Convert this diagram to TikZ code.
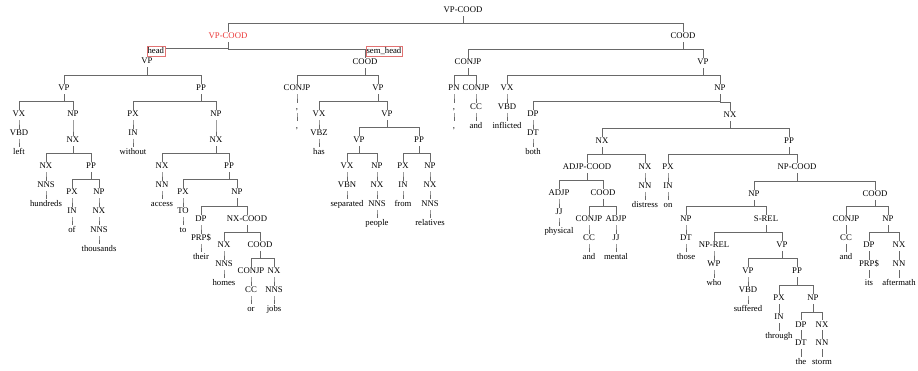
\documentclass[tikz,border=0pt]{standalone}
\usepackage{fontspec}
\setmainfont{Liberation Serif}
\usepackage{xcolor}
\usepackage{tikz}
\usetikzlibrary{positioning}
\definecolor{treegray}{RGB}{105,105,105}
\definecolor{headred}{RGB}{235,55,55}
\definecolor{boxred}{RGB}{225,115,115}

\tikzset{
    tag/.style={inner sep=1pt, text height=6pt, text depth=2pt, font=\fontsize{8.7}{10}\selectfont},
    branch/.style={draw=treegray, line width=0.6pt,
        to path={(\tikztostart.south) |- ([yshift=8pt]\tikztotarget.north) -- (\tikztotarget.north)}},
    rolebox/.style={tag, draw=boxred, fill=white, inner sep=0.8pt, line width=0.5pt}
}

\begin{document}
\begin{tikzpicture}[x=1pt, y=-1pt, node distance=8.4pt]
    \useasboundingbox (0,0) rectangle (918,371);

    \node[tag] (root) at (463,11) {VP-COOD};
    \node[tag, text=headred] (vpcood) at (228,37) {VP-COOD};
    \node[tag] (cood) at (683,37) {COOD};

    % head conjunct
    \node[tag] (vp) at (147,62) {VP};
    \node[tag] (vp-left) at (64,89) {VP};
    \node[tag] (pp-without) at (201,89) {PP};
    \node[tag] (vx-left) at (19,115) {VX};
    \node[tag, below=of vx-left] (t-left) {VBD};
    \node[tag, below=of t-left] (w-left) {left};
    \node[tag] (np-hundreds) at (73,115) {NP};
    \node[tag] (nx-hundreds) at (73,141) {NX};
    \node[tag] (nx-h) at (46,167) {NX};
    \node[tag, below=of nx-h] (t-hundreds) {NNS};
    \node[tag, below=of t-hundreds] (w-hundreds) {hundreds};
    \node[tag] (pp-of) at (91,167) {PP};
    \node[tag] (px-of) at (72,193) {PX};
    \node[tag, below=of px-of] (t-of) {IN};
    \node[tag, below=of t-of] (w-of) {of};
    \node[tag] (np-thousands) at (99,193) {NP};
    \node[tag, below=of np-thousands] (nx-thousands) {NX};
    \node[tag, below=of nx-thousands] (t-thousands) {NNS};
    \node[tag, below=of t-thousands] (w-thousands) {thousands};
    \node[tag] (px-without) at (133,115) {PX};
    \node[tag, below=of px-without] (t-without) {IN};
    \node[tag, below=of t-without] (w-without) {without};
    \node[tag] (np-access) at (216,115) {NP};
    \node[tag] (nx-access) at (216,141) {NX};
    \node[tag] (nx-a) at (162,167) {NX};
    \node[tag, below=of nx-a] (t-access) {NN};
    \node[tag, below=of t-access] (w-access) {access};
    \node[tag] (pp-to) at (229,167) {PP};
    \node[tag] (px-to) at (183,193) {PX};
    \node[tag, below=of px-to] (t-to) {TO};
    \node[tag, below=of t-to] (w-to) {to};
    \node[tag] (np-their) at (237,193) {NP};
    \node[tag] (dp-their) at (201,220) {DP};
    \node[tag, below=of dp-their] (t-their) {PRP\$};
    \node[tag, below=of t-their] (w-their) {their};
    \node[tag] (nxcood) at (247,220) {NX-COOD};
    \node[tag] (nx-homes) at (224,246) {NX};
    \node[tag, below=of nx-homes] (t-homes) {NNS};
    \node[tag, below=of t-homes] (w-homes) {homes};
    \node[tag] (cood-jobs) at (260,246) {COOD};
    \node[tag] (conjp-or) at (251,272) {CONJP};
    \node[tag, below=of conjp-or] (t-or) {CC};
    \node[tag, below=of t-or] (w-or) {or};
    \node[tag] (nx-jobs) at (274,272) {NX};
    \node[tag, below=of nx-jobs] (t-jobs) {NNS};
    \node[tag, below=of t-jobs] (w-jobs) {jobs};

    % sem_head conjunct
    \node[tag] (cood-has) at (365,63) {COOD};
    \node[tag] (conjp-comma) at (297,89) {CONJP};
    \node[tag, below=of conjp-comma] (t-comma) {,};
    \node[tag, below=of t-comma] (w-comma) {,};
    \node[tag] (vp-has) at (378,89) {VP};
    \node[tag] (vx-has) at (319,115) {VX};
    \node[tag, below=of vx-has] (t-has) {VBZ};
    \node[tag, below=of t-has] (w-has) {has};
    \node[tag] (vp-sep) at (387,115) {VP};
    \node[tag] (vp-people) at (359,141) {VP};
    \node[tag] (vx-sep) at (347,167) {VX};
    \node[tag, below=of vx-sep] (t-sep) {VBN};
    \node[tag, below=of t-sep] (w-sep) {separated};
    \node[tag] (np-people) at (377,167) {NP};
    \node[tag, below=of np-people] (nx-people) {NX};
    \node[tag, below=of nx-people] (t-people) {NNS};
    \node[tag, below=of t-people] (w-people) {people};
    \node[tag] (pp-from) at (419,141) {PP};
    \node[tag] (px-from) at (403,167) {PX};
    \node[tag, below=of px-from] (t-from) {IN};
    \node[tag, below=of t-from] (w-from) {from};
    \node[tag] (np-rel) at (430,167) {NP};
    \node[tag, below=of np-rel] (nx-rel) {NX};
    \node[tag, below=of nx-rel] (t-rel) {NNS};
    \node[tag, below=of t-rel] (w-rel) {relatives};

    % right conjunct
    \node[tag] (conjp-and) at (468,63) {CONJP};
    \node[tag] (pn) at (454,89) {PN};
    \node[tag, below=of pn] (t-pn) {,};
    \node[tag, below=of t-pn] (w-pn) {,};
    \node[tag] (conjp-cc) at (476,89) {CONJP};
    \node[tag, below=of conjp-cc] (t-and) {CC};
    \node[tag, below=of t-and] (w-and) {and};
    \node[tag] (vp-inflicted) at (703,63) {VP};
    \node[tag] (vx-inflicted) at (507,89) {VX};
    \node[tag, below=of vx-inflicted] (t-inflicted) {VBD};
    \node[tag, below=of t-inflicted] (w-inflicted) {inflicted};
    \node[tag] (np-both) at (720,89) {NP};
    \node[tag] (dp-both) at (533,115) {DP};
    \node[tag, below=of dp-both] (t-both) {DT};
    \node[tag, below=of t-both] (w-both) {both};
    \node[tag] (nx-both) at (730,116) {NX};
    \node[tag] (nx-distress) at (602,142) {NX};
    \node[tag] (adjpcood) at (587,168) {ADJP-COOD};
    \node[tag] (adjp-phys) at (559,194) {ADJP};
    \node[tag, below=of adjp-phys] (t-phys) {JJ};
    \node[tag, below=of t-phys] (w-phys) {physical};
    \node[tag] (cood-mental) at (603,194) {COOD};
    \node[tag] (conjp-mental) at (589,220) {CONJP};
    \node[tag, below=of conjp-mental] (t-and2) {CC};
    \node[tag, below=of t-and2] (w-and2) {and};
    \node[tag] (adjp-mental) at (616,220) {ADJP};
    \node[tag, below=of adjp-mental] (t-mental) {JJ};
    \node[tag, below=of t-mental] (w-mental) {mental};
    \node[tag] (nx-d) at (645,168) {NX};
    \node[tag, below=of nx-d] (t-distress) {NN};
    \node[tag, below=of t-distress] (w-distress) {distress};
    \node[tag] (pp-on) at (789,142) {PP};
    \node[tag] (px-on) at (668,168) {PX};
    \node[tag, below=of px-on] (t-on) {IN};
    \node[tag, below=of t-on] (w-on) {on};
    \node[tag] (npcood) at (797,168) {NP-COOD};
    \node[tag] (np-those) at (754,195) {NP};
    \node[tag] (np-dt) at (686,220) {NP};
    \node[tag, below=of np-dt] (t-those) {DT};
    \node[tag, below=of t-those] (w-those) {those};
    \node[tag] (srel) at (766,220) {S-REL};
    \node[tag] (nprel) at (714,246) {NP-REL};
    \node[tag, below=of nprel] (t-who) {WP};
    \node[tag, below=of t-who] (w-who) {who};
    \node[tag] (vp-suffered) at (782,246) {VP};
    \node[tag] (vp-vbd) at (748,272) {VP};
    \node[tag, below=of vp-vbd] (t-suffered) {VBD};
    \node[tag, below=of t-suffered] (w-suffered) {suffered};
    \node[tag] (pp-through) at (797,272) {PP};
    \node[tag] (px-through) at (779,299) {PX};
    \node[tag, below=of px-through] (t-through) {IN};
    \node[tag, below=of t-through] (w-through) {through};
    \node[tag] (np-storm) at (813,299) {NP};
    \node[tag] (dp-the) at (801,325) {DP};
    \node[tag, below=of dp-the] (t-the) {DT};
    \node[tag, below=of t-the] (w-the) {the};
    \node[tag] (nx-storm) at (822,325) {NX};
    \node[tag, below=of nx-storm] (t-storm) {NN};
    \node[tag, below=of t-storm] (w-storm) {storm};
    \node[tag] (cood-after) at (875,195) {COOD};
    \node[tag] (conjp-after) at (846,220) {CONJP};
    \node[tag, below=of conjp-after] (t-and3) {CC};
    \node[tag, below=of t-and3] (w-and3) {and};
    \node[tag] (np-after) at (888,220) {NP};
    \node[tag] (dp-its) at (869,246) {DP};
    \node[tag, below=of dp-its] (t-its) {PRP\$};
    \node[tag, below=of t-its] (w-its) {its};
    \node[tag] (nx-after) at (899,246) {NX};
    \node[tag, below=of nx-after] (t-after) {NN};
    \node[tag, below=of t-after] (w-after) {aftermath};

    % branches
    \draw[branch] (root) to (vpcood);
    \draw[branch] (root) to (cood);
    \draw[branch] (vpcood) to (vp);
    \draw[branch] (vpcood) to (cood-has);

    \draw[branch] (vp) to (vp-left);
    \draw[branch] (vp) to (pp-without);
    \draw[branch] (vp-left) to (vx-left);
    \draw[branch] (vx-left) to (t-left);
    \draw[branch] (t-left) to (w-left);
    \draw[branch] (vp-left) to (np-hundreds);
    \draw[branch] (np-hundreds) to (nx-hundreds);
    \draw[branch] (nx-hundreds) to (nx-h);
    \draw[branch] (nx-h) to (t-hundreds);
    \draw[branch] (t-hundreds) to (w-hundreds);
    \draw[branch] (nx-hundreds) to (pp-of);
    \draw[branch] (pp-of) to (px-of);
    \draw[branch] (px-of) to (t-of);
    \draw[branch] (t-of) to (w-of);
    \draw[branch] (pp-of) to (np-thousands);
    \draw[branch] (np-thousands) to (nx-thousands);
    \draw[branch] (nx-thousands) to (t-thousands);
    \draw[branch] (t-thousands) to (w-thousands);
    \draw[branch] (pp-without) to (px-without);
    \draw[branch] (px-without) to (t-without);
    \draw[branch] (t-without) to (w-without);
    \draw[branch] (pp-without) to (np-access);
    \draw[branch] (np-access) to (nx-access);
    \draw[branch] (nx-access) to (nx-a);
    \draw[branch] (nx-a) to (t-access);
    \draw[branch] (t-access) to (w-access);
    \draw[branch] (nx-access) to (pp-to);
    \draw[branch] (pp-to) to (px-to);
    \draw[branch] (px-to) to (t-to);
    \draw[branch] (t-to) to (w-to);
    \draw[branch] (pp-to) to (np-their);
    \draw[branch] (np-their) to (dp-their);
    \draw[branch] (dp-their) to (t-their);
    \draw[branch] (t-their) to (w-their);
    \draw[branch] (np-their) to (nxcood);
    \draw[branch] (nxcood) to (nx-homes);
    \draw[branch] (nx-homes) to (t-homes);
    \draw[branch] (t-homes) to (w-homes);
    \draw[branch] (nxcood) to (cood-jobs);
    \draw[branch] (cood-jobs) to (conjp-or);
    \draw[branch] (conjp-or) to (t-or);
    \draw[branch] (t-or) to (w-or);
    \draw[branch] (cood-jobs) to (nx-jobs);
    \draw[branch] (nx-jobs) to (t-jobs);
    \draw[branch] (t-jobs) to (w-jobs);

    \draw[branch] (cood-has) to (conjp-comma);
    \draw[branch] (conjp-comma) to (t-comma);
    \draw[branch] (t-comma) to (w-comma);
    \draw[branch] (cood-has) to (vp-has);
    \draw[branch] (vp-has) to (vx-has);
    \draw[branch] (vx-has) to (t-has);
    \draw[branch] (t-has) to (w-has);
    \draw[branch] (vp-has) to (vp-sep);
    \draw[branch] (vp-sep) to (vp-people);
    \draw[branch] (vp-people) to (vx-sep);
    \draw[branch] (vx-sep) to (t-sep);
    \draw[branch] (t-sep) to (w-sep);
    \draw[branch] (vp-people) to (np-people);
    \draw[branch] (np-people) to (nx-people);
    \draw[branch] (nx-people) to (t-people);
    \draw[branch] (t-people) to (w-people);
    \draw[branch] (vp-sep) to (pp-from);
    \draw[branch] (pp-from) to (px-from);
    \draw[branch] (px-from) to (t-from);
    \draw[branch] (t-from) to (w-from);
    \draw[branch] (pp-from) to (np-rel);
    \draw[branch] (np-rel) to (nx-rel);
    \draw[branch] (nx-rel) to (t-rel);
    \draw[branch] (t-rel) to (w-rel);

    \draw[branch] (cood) to (conjp-and);
    \draw[branch] (conjp-and) to (pn);
    \draw[branch] (pn) to (t-pn);
    \draw[branch] (t-pn) to (w-pn);
    \draw[branch] (conjp-and) to (conjp-cc);
    \draw[branch] (conjp-cc) to (t-and);
    \draw[branch] (t-and) to (w-and);
    \draw[branch] (cood) to (vp-inflicted);
    \draw[branch] (vp-inflicted) to (vx-inflicted);
    \draw[branch] (vx-inflicted) to (t-inflicted);
    \draw[branch] (t-inflicted) to (w-inflicted);
    \draw[branch] (vp-inflicted) to (np-both);
    \draw[branch] (np-both) to (dp-both);
    \draw[branch] (dp-both) to (t-both);
    \draw[branch] (t-both) to (w-both);
    \draw[branch] (np-both) to (nx-both);
    \draw[branch] (nx-both) to (nx-distress);
    \draw[branch] (nx-distress) to (adjpcood);
    \draw[branch] (adjpcood) to (adjp-phys);
    \draw[branch] (adjp-phys) to (t-phys);
    \draw[branch] (t-phys) to (w-phys);
    \draw[branch] (adjpcood) to (cood-mental);
    \draw[branch] (cood-mental) to (conjp-mental);
    \draw[branch] (conjp-mental) to (t-and2);
    \draw[branch] (t-and2) to (w-and2);
    \draw[branch] (cood-mental) to (adjp-mental);
    \draw[branch] (adjp-mental) to (t-mental);
    \draw[branch] (t-mental) to (w-mental);
    \draw[branch] (nx-distress) to (nx-d);
    \draw[branch] (nx-d) to (t-distress);
    \draw[branch] (t-distress) to (w-distress);
    \draw[branch] (nx-both) to (pp-on);
    \draw[branch] (pp-on) to (px-on);
    \draw[branch] (px-on) to (t-on);
    \draw[branch] (t-on) to (w-on);
    \draw[branch] (pp-on) to (npcood);
    \draw[branch] (npcood) to (np-those);
    \draw[branch] (np-those) to (np-dt);
    \draw[branch] (np-dt) to (t-those);
    \draw[branch] (t-those) to (w-those);
    \draw[branch] (np-those) to (srel);
    \draw[branch] (srel) to (nprel);
    \draw[branch] (nprel) to (t-who);
    \draw[branch] (t-who) to (w-who);
    \draw[branch] (srel) to (vp-suffered);
    \draw[branch] (vp-suffered) to (vp-vbd);
    \draw[branch] (vp-vbd) to (t-suffered);
    \draw[branch] (t-suffered) to (w-suffered);
    \draw[branch] (vp-suffered) to (pp-through);
    \draw[branch] (pp-through) to (px-through);
    \draw[branch] (px-through) to (t-through);
    \draw[branch] (t-through) to (w-through);
    \draw[branch] (pp-through) to (np-storm);
    \draw[branch] (np-storm) to (dp-the);
    \draw[branch] (dp-the) to (t-the);
    \draw[branch] (t-the) to (w-the);
    \draw[branch] (np-storm) to (nx-storm);
    \draw[branch] (nx-storm) to (t-storm);
    \draw[branch] (t-storm) to (w-storm);
    \draw[branch] (npcood) to (cood-after);
    \draw[branch] (cood-after) to (conjp-after);
    \draw[branch] (conjp-after) to (t-and3);
    \draw[branch] (t-and3) to (w-and3);
    \draw[branch] (cood-after) to (np-after);
    \draw[branch] (np-after) to (dp-its);
    \draw[branch] (dp-its) to (t-its);
    \draw[branch] (t-its) to (w-its);
    \draw[branch] (np-after) to (nx-after);
    \draw[branch] (nx-after) to (t-after);
    \draw[branch] (t-after) to (w-after);

    % role labels on the two conjunct branches
    \node[rolebox, anchor=west] (headrole) at (146.5,51.5) {head};
    \node[rolebox, anchor=west] (semrole) at (365.5,51.5) {sem\_head};
\end{tikzpicture}
\end{document}
